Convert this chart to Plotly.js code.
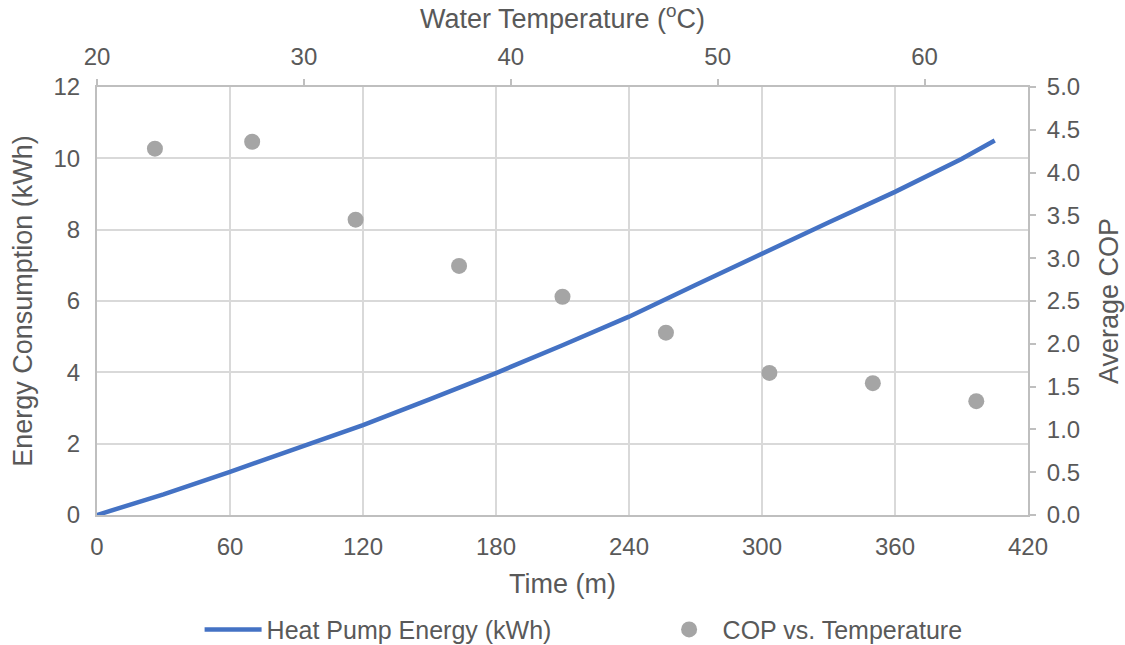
<!DOCTYPE html>
<html>
<head>
<meta charset="utf-8">
<script src="https://cdn.plot.ly/plotly-3.0.1.min.js"></script>
<style>html,body{margin:0;padding:0;background:#fff;}#chart{width:1125px;height:645px;}</style>
</head>
<body>
<div id="chart"></div>
<script>
// Heat pump energy vs time
const timeMin = [0, 30, 60, 90, 120, 150, 180, 210, 240, 270, 300, 330, 360, 390, 405];
const energyKWh = [0, 0.58, 1.21, 1.85, 2.52, 3.24, 3.98, 4.76, 5.56, 6.45, 7.34, 8.2, 9.06, 9.98, 10.5];
// COP vs water temperature
const waterTempC = [22.8, 27.5, 32.5, 37.5, 42.5, 47.5, 52.5, 57.5, 62.5];
const avgCOP = [4.28, 4.36, 3.45, 2.91, 2.55, 2.13, 1.66, 1.54, 1.33];
const timeTicks = [0, 60, 120, 180, 240, 300, 360, 420];
const tempTicks = [20, 30, 40, 50, 60];

const txt = '#595959';
const fam = 'Liberation Sans, Arial, sans-serif';

const traces = [
  {x: timeMin, y: energyKWh, type: 'scatter', mode: 'lines', name: 'Heat Pump Energy (kWh)',
   line: {color: '#4472c4', width: 4.5}, xaxis: 'x', yaxis: 'y'},
  {x: waterTempC, y: avgCOP, type: 'scatter', mode: 'markers', name: 'COP vs. Temperature',
   marker: {color: '#a5a5a5', size: 16}, xaxis: 'x2', yaxis: 'y2'}
];

const layout = {
  width: 1125, height: 645,
  margin: {l: 97, r: 97, t: 87, b: 130, autoexpand: false},
  paper_bgcolor: '#fff', plot_bgcolor: '#fff',
  font: {family: fam, color: txt, size: 24},
  showlegend: true,
  legend: {orientation: 'h', x: 0.6, xanchor: 'center', y: -0.268, yanchor: 'middle',
           font: {size: 25, color: txt}, itemwidth: 57, entrywidth: 384, traceorder: 'normal'},
  xaxis: {range: [0, 420], tickvals: timeTicks, showgrid: true, gridcolor: '#d9d9d9', gridwidth: 2,
          showline: true, linecolor: '#bfbfbf', linewidth: 2, ticks: '', zeroline: false,
          tickfont: {size: 24, color: txt}, ticklabelstandoff: 9,
          title: {text: 'Time (m)', font: {size: 27, color: txt}, standoff: 15}},
  xaxis2: {range: [20, 65], tickvals: tempTicks, overlaying: 'x', side: 'top', anchor: 'y',
           showgrid: false, showline: true, linecolor: '#bfbfbf', linewidth: 2, zeroline: false,
           ticks: 'outside', ticklen: 6, tickwidth: 2, tickcolor: '#bfbfbf',
           tickfont: {size: 24, color: txt}, ticklabelstandoff: 4,
           title: {text: 'Water Temperature (<sup>o</sup>C)', font: {size: 27, color: txt}, standoff: 8}},
  yaxis: {range: [0, 12], dtick: 2, showgrid: true, gridcolor: '#d9d9d9', gridwidth: 2,
          showline: true, linecolor: '#bfbfbf', linewidth: 2, ticks: '', zeroline: false,
          tickfont: {size: 24, color: txt}, ticklabelstandoff: 10,
          title: {text: 'Energy Consumption (kWh)', font: {size: 27, color: txt}, standoff: 13}},
  yaxis2: {range: [0, 5], dtick: 0.5, tickformat: '.1f', overlaying: 'y', side: 'right', anchor: 'x',
           showgrid: false, showline: true, linecolor: '#bfbfbf', linewidth: 2, zeroline: false,
           ticks: 'outside', ticklen: 6, tickwidth: 2, tickcolor: '#bfbfbf',
           tickfont: {size: 24, color: txt}, ticklabelstandoff: 6,
           title: {text: 'Average COP', font: {size: 27, color: txt}, standoff: 20}}
};

Plotly.newPlot('chart', traces, layout, {displayModeBar: false, staticPlot: true});
</script>
</body>
</html>
